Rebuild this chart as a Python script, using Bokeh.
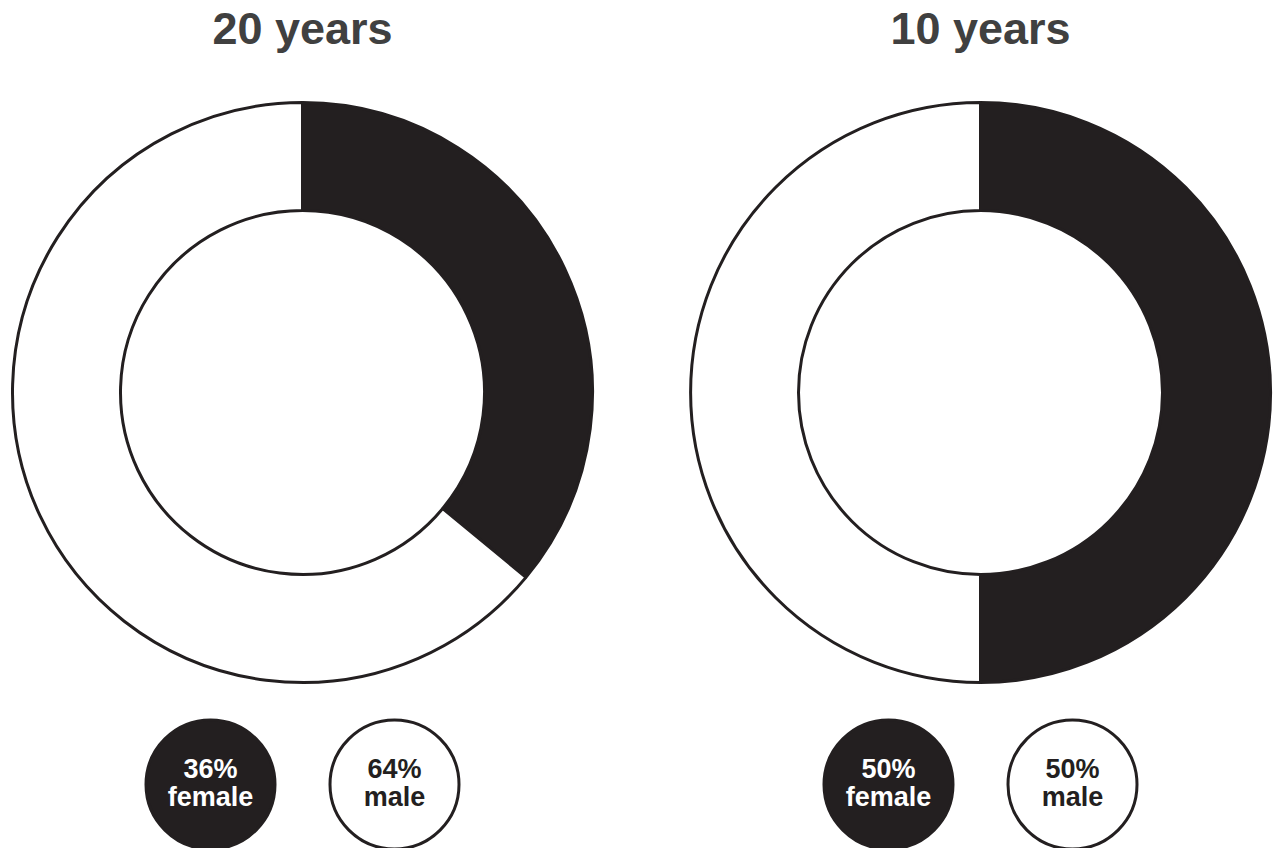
import math
from bokeh.plotting import figure
from bokeh.models import ColumnDataSource, Range1d
from bokeh.core.properties import value
from bokeh.embed import file_html
from bokeh.resources import INLINE

# ---- data ----
groups = ["20 years", "10 years"]
female_pct = [36, 50]
male_pct = [64, 50]
female_label = "female"
male_label = "male"

# ---- styles / layout ----
DARK = "#231f20"
TITLE_C = "#404040"
FONT = "Liberation Sans"
W, H = 1273, 848
centers_x = [302, 980]       # page px
center_y_page = 392
R_OUT, R_IN = 290, 182
badge_y_page = 784
badge_dx = 92
badge_r = 66
title_base_page = 28
line1_page = 768
line2_page = 796


def Y(page_y):
    return H - page_y


p = figure(width=W, height=H, output_backend="svg", toolbar_location=None,
           x_range=Range1d(0, W), y_range=Range1d(0, H),
           min_border=0, outline_line_color=None)
p.axis.visible = False
p.grid.visible = False
p.background_fill_color = "white"
p.border_fill_color = "white"

# wedges
wx, wy, ws, we, wc = [], [], [], [], []
for i, g in enumerate(groups):
    tot = female_pct[i] + male_pct[i]
    f_ang = 2 * math.pi * female_pct[i] / tot
    top = math.pi / 2
    # female: clockwise from top
    wx.append(centers_x[i]); wy.append(Y(center_y_page))
    ws.append(top - f_ang); we.append(top); wc.append(DARK)
    # male: remainder
    wx.append(centers_x[i]); wy.append(Y(center_y_page))
    ws.append(top); we.append(top - f_ang + 2 * math.pi); wc.append("white")

src = ColumnDataSource(dict(x=wx, y=wy, s=ws, e=we, c=wc))
p.annular_wedge(x="x", y="y", inner_radius=R_IN, outer_radius=R_OUT,
                start_angle="s", end_angle="e", fill_color="c",
                line_color=DARK, line_width=3, source=src)

# titles
p.text(x=centers_x, y=[Y(title_base_page)] * 2, text=groups,
       text_font=value(FONT), text_font_style="bold", text_font_size="45px",
       text_color=TITLE_C, text_align="center", text_baseline="alphabetic")

# badges
bx, bfill, t1, t2, tc = [], [], [], [], []
for i in range(len(groups)):
    bx.append(centers_x[i] - badge_dx); bfill.append(DARK)
    t1.append(f"{female_pct[i]}%"); t2.append(female_label); tc.append("white")
    bx.append(centers_x[i] + badge_dx); bfill.append("white")
    t1.append(f"{male_pct[i]}%"); t2.append(male_label); tc.append(DARK)

bsrc = ColumnDataSource(dict(x=bx, y=[Y(badge_y_page)] * len(bx), f=bfill,
                             t1=t1, t2=t2, tc=tc,
                             y1=[Y(line1_page)] * len(bx),
                             y2=[Y(line2_page)] * len(bx)))
p.circle(x="x", y="y", radius=badge_r - 1.5, fill_color="f", line_color=DARK,
         line_width=3, source=bsrc)
p.text(x="x", y="y1", text="t1", text_color="tc", text_font=value(FONT),
       text_font_style="bold", text_font_size="27px", text_align="center",
       text_baseline="alphabetic", source=bsrc)
p.text(x="x", y="y2", text="t2", text_color="tc", text_font=value(FONT),
       text_font_style="bold", text_font_size="27px", text_align="center",
       text_baseline="alphabetic", source=bsrc)

open("out.html", "w").write(file_html(p, INLINE))
